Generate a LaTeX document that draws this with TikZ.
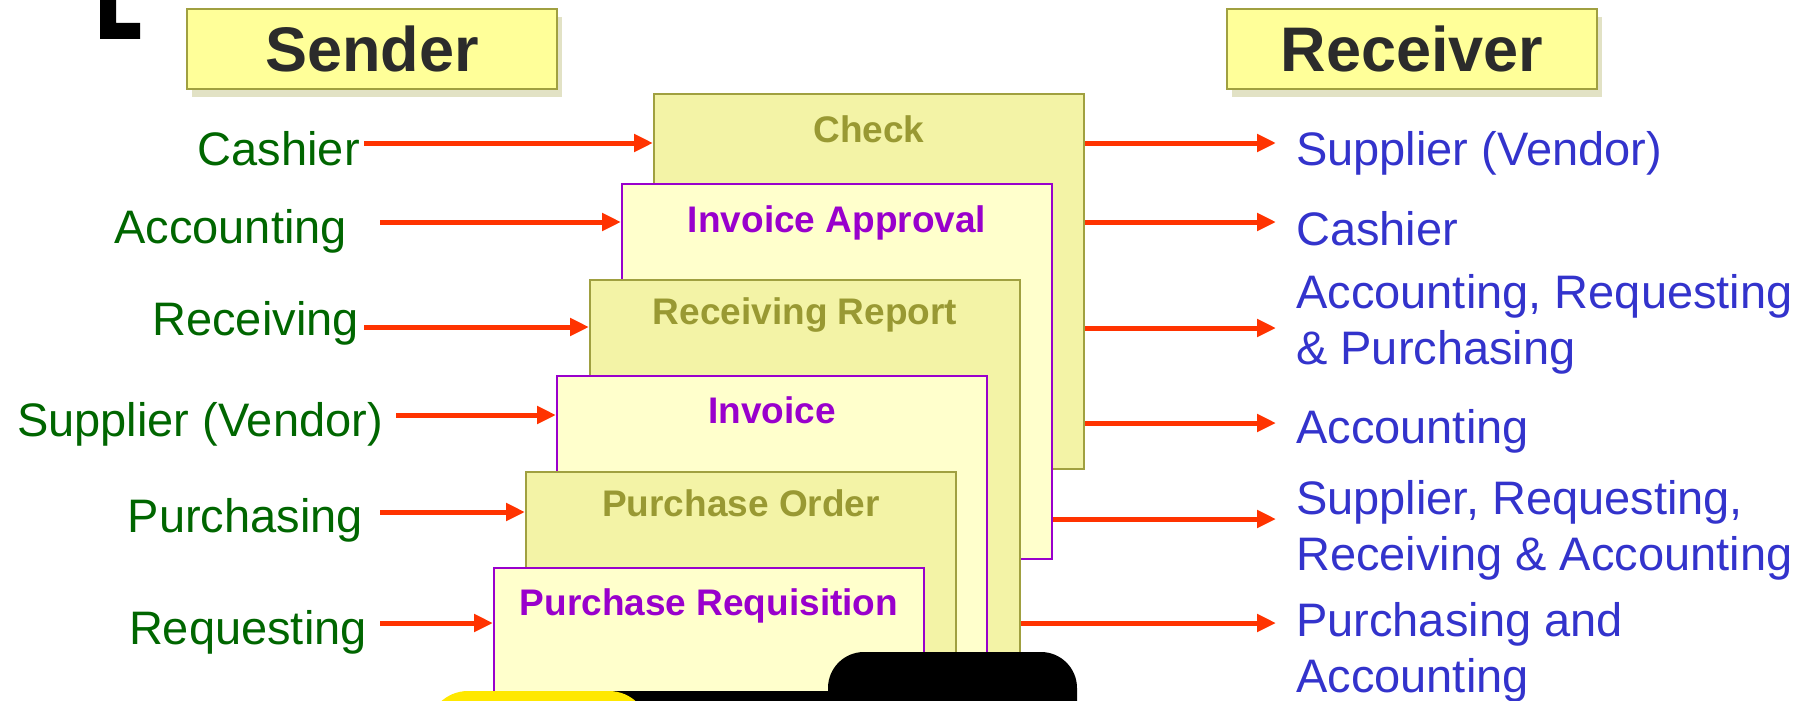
\documentclass[tikz,border=0pt]{standalone}
\usepackage{fontspec}
\setmainfont{Liberation Sans}
\usetikzlibrary{arrows.meta,shadows}
\definecolor{oliveF}{HTML}{F3F3A6}
\definecolor{oliveB}{HTML}{A0A040}
\definecolor{oliveT}{HTML}{999933}
\definecolor{lightF}{HTML}{FFFFCC}
\definecolor{purp}{HTML}{9900CC}
\definecolor{hdrF}{HTML}{FFFF99}
\definecolor{arrR}{HTML}{FF3300}
\definecolor{grn}{HTML}{006600}
\definecolor{blu}{HTML}{3333CC}
\definecolor{ylw}{HTML}{FFE800}
\definecolor{txtD}{HTML}{2B2B2B}
\begin{document}
\begin{tikzpicture}[x=1pt,y=-1pt,
  hdr/.style={draw=oliveB, line width=2pt, fill=hdrF, minimum width=370pt, minimum height=80pt, inner sep=0pt,
    font=\fontsize{63}{70}\selectfont\bfseries, text=txtD,
    drop shadow={shadow xshift=5pt, shadow yshift=-8pt, fill=oliveB, opacity=0.3}},
  docO/.style={draw=oliveB, line width=2pt, fill=oliveF, minimum width=430pt, minimum height=375pt, anchor=north west, inner sep=0pt},
  docP/.style={draw=purp, line width=2pt, fill=lightF, minimum width=430pt, minimum height=375pt, anchor=north west, inner sep=0pt},
  ttlO/.style={anchor=base, font=\fontsize{37}{40}\selectfont\bfseries, text=oliveT, inner sep=0pt},
  ttlP/.style={anchor=base, font=\fontsize{37}{40}\selectfont\bfseries, text=purp, inner sep=0pt},
  snd/.style={anchor=base east, font=\fontsize{47}{56}\selectfont, text=grn, inner sep=0pt},
  rcv/.style={anchor=base west, font=\fontsize{47}{56}\selectfont, text=blu, inner sep=0pt, align=left},
  arr/.style={draw=arrR, line width=5pt, -{Triangle[length=19pt,width=17pt]}},
]
\useasboundingbox (0,0) rectangle (1816,701);
\clip (0,0) rectangle (1816,701);
\fill[white] (0,0) rectangle (1816,701);

% corner fragment
\fill[black] (100,-5) -- (116,-5) -- (116,23) -- (140,23) -- (140,39) -- (100,39) -- cycle;

% headers
\node[hdr] (sender) at (372,49) {Sender};
\node[hdr] (receiver) at (1412,49) {Receiver};

% document stack
\node[docO] (check) at (653,93) {};
\node[ttlO] (checkT) at ([yshift=-49pt]check.north) {Check};
\node[docP] (ia) at (621,183) {};
\node[ttlP] (iaT) at ([yshift=-49pt]ia.north) {Invoice Approval};
\node[docO] (rr) at (589,279) {};
\node[ttlO] (rrT) at ([yshift=-45pt]rr.north) {Receiving Report};
\node[docP] (inv) at (556,375) {};
\node[ttlP] (invT) at ([yshift=-48pt]inv.north) {Invoice};
\node[docO] (po) at (525,471) {};
\node[ttlO] (poT) at ([yshift=-45pt]po.north) {Purchase Order};
\node[docP] (pr) at (493,567) {};
\node[ttlP] (prT) at ([yshift=-48pt]pr.north) {Purchase Requisition};

% senders
\node[snd] (s1) at (360,165) {Cashier};
\node[snd] (s2) at (347,243) {Accounting};
\node[snd] (s3) at (359,335) {Receiving};
\node[snd] (s4) at (383,436) {Supplier (Vendor)};
\node[snd] (s5) at (363,532) {Purchasing};
\node[snd] (s6) at (367,644) {Requesting};

\coordinate (a1) at (364,143);
\coordinate (a2) at (380,222);
\coordinate (a3) at (364,327);
\coordinate (a4) at (396,415);
\coordinate (a5) at (380,512);
\coordinate (a6) at (380,623);
\draw[arr] (a1) -- (check.west |- a1);
\draw[arr] (a2) -- (ia.west |- a2);
\draw[arr] (a3) -- (rr.west |- a3);
\draw[arr] (a4) -- (inv.west |- a4);
\draw[arr] (a5) -- (po.west |- a5);
\draw[arr] (a6) -- (pr.west |- a6);

% receivers (base = baseline of the last line)
\node[rcv] (r1) at (1296,165) {Supplier (Vendor)};
\node[rcv] (r2) at (1296,245) {Cashier};
\node[rcv] (r3) at (1296,364) {Accounting, Requesting\\\& Purchasing};
\node[rcv] (r4) at (1296,443) {Accounting};
\node[rcv] (r5) at (1296,570) {Supplier, Requesting,\\Receiving \& Accounting};
\node[rcv] (r6) at (1296,692) {Purchasing and\\Accounting};

\coordinate (t1) at (1276,143);
\coordinate (t2) at (1276,222);
\coordinate (t3) at (1276,328);
\coordinate (t4) at (1276,423);
\coordinate (t5) at (1276,519);
\coordinate (t6) at (1276,623);
\draw[arr] (check.east |- t1) -- (t1);
\draw[arr] (check.east |- t2) -- (t2);
\draw[arr] (check.east |- t3) -- (t3);
\draw[arr] (check.east |- t4) -- (t4);
\draw[arr] (ia.east |- t5) -- (t5);
\draw[arr] (rr.east |- t6) -- (t6);

% bottom fragments
\fill[black] (600,691) rectangle (1077,720);
\fill[black, rounded corners=36pt] (828,740) -- (828,652) -- (1077,652) -- (1077,740);
\fill[ylw, rounded corners=40pt] (428,760) -- (428,691) -- (649,691) -- (649,760);
\end{tikzpicture}
\end{document}
